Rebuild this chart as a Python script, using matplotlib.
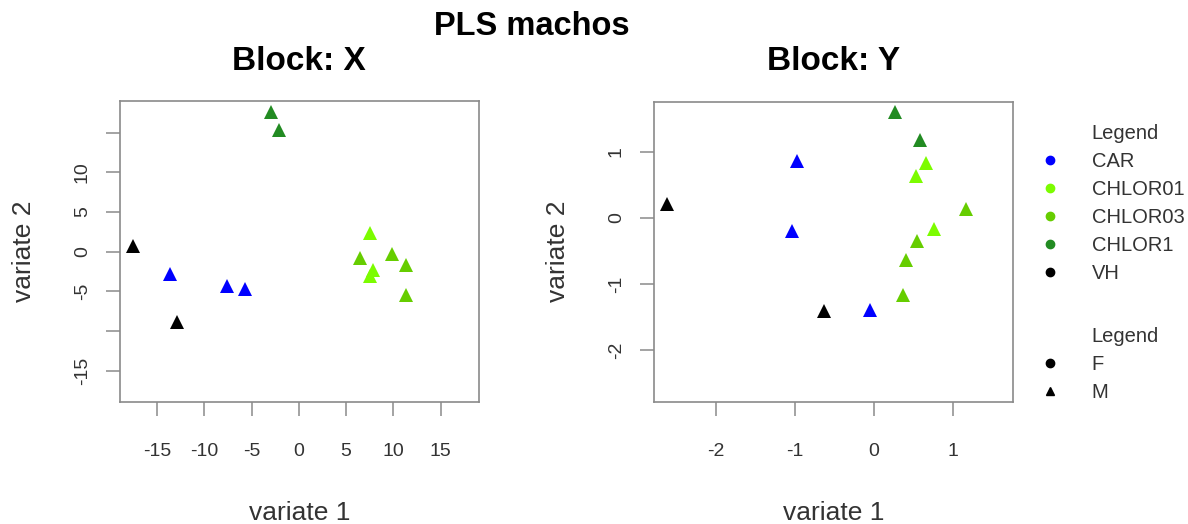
import matplotlib.pyplot as plt
from matplotlib.lines import Line2D

plt.rcParams['font.family'] = ['Liberation Sans', 'DejaVu Sans']
plt.rcParams['axes.unicode_minus'] = False

# sample groups (treatment) for the 14 males
groups = ['VH', 'VH', 'CAR', 'CAR', 'CAR', 'CHLOR1', 'CHLOR1',
          'CHLOR01', 'CHLOR01', 'CHLOR01',
          'CHLOR03', 'CHLOR03', 'CHLOR03', 'CHLOR03']

# block X components
x_var1 = [-17.5, -12.9, -13.6, -7.6, -5.7, -2.9, -2.05,
          7.5, 7.8, 7.5,
          6.5, 9.8, 11.3, 11.3]
x_var2 = [0.76, -8.8, -2.8, -4.3, -4.7, 17.6, 15.4,
          2.35, -2.3, -3.1,
          -0.8, -0.3, -1.7, -5.4]

# block Y components
y_var1 = [-2.62, -0.63, -0.97, -1.03, -0.05, 0.27, 0.59,
          0.66, 0.54, 0.76,
          1.17, 0.55, 0.41, 0.37]
y_var2 = [0.21, -1.40, 0.87, -0.20, -1.39, 1.61, 1.18,
          0.83, 0.63, -0.17,
          0.14, -0.35, -0.63, -1.16]

group_names = ['CAR', 'CHLOR01', 'CHLOR03', 'CHLOR1', 'VH']
group_colors = {'CAR': '#0000FF', 'CHLOR01': '#7CFC00', 'CHLOR03': '#66CD00',
                'CHLOR1': '#228B22', 'VH': '#000000'}
sex_names = ['F', 'M']
sex_markers = ['o', '^']

x_lim = (-18.9, 19.0)
x_ticks = [-15, -10, -5, 0, 5, 10, 15]
x_yticks = [-15, -10, -5, 0, 5, 10, 15]
x_yticklabels = ['-15', '', '-5', '0', '5', '10', '']

y_lim = (-2.78, 1.76)
y_ticks = [-2, -1, 0, 1]

box_col = '#8a8a8a'
txt_col = '#333333'

fig = plt.figure(figsize=(11.88, 5.24), dpi=100)
ax1 = fig.add_axes([0.1010, 0.2334, 0.3019, 0.5739])
ax2 = fig.add_axes([0.5505, 0.2334, 0.3019, 0.5725])


def draw_block(ax, v1, v2, lim, xticks, yticks, yticklabels):
    for g in group_names:
        xs = [a for a, k in zip(v1, groups) if k == g]
        ys = [b for b, k in zip(v2, groups) if k == g]
        ax.plot(xs, ys, ls='', marker='^', ms=10, color=group_colors[g],
                markeredgewidth=0)
    ax.set_xlim(lim)
    ax.set_ylim(lim)
    ax.set_xticks(xticks)
    ax.set_yticks(yticks)
    ax.set_yticklabels(yticklabels, rotation=90, va='center')
    for s in ax.spines.values():
        s.set_color(box_col)
        s.set_linewidth(1.2)
    ax.tick_params(axis='both', direction='out', length=10, width=1.1,
                   color=box_col, labelsize=14, labelcolor=txt_col)
    ax.tick_params(axis='x', pad=20)
    ax.tick_params(axis='y', pad=11)
    ax.set_xlabel('variate 1', fontsize=19, color=txt_col, labelpad=29)
    ax.set_ylabel('variate 2', fontsize=19, color=txt_col, labelpad=27)


draw_block(ax1, x_var1, x_var2, x_lim, x_ticks, x_yticks, x_yticklabels)
draw_block(ax2, y_var1, y_var2, y_lim, y_ticks, y_ticks,
           [str(t) for t in y_ticks])

fig.text(0.448, 0.950, 'PLS machos', ha='center', va='center',
         fontsize=23.5, fontweight='bold')
fig.text(0.2519, 0.8826, 'Block: X', ha='center', va='center',
         fontsize=24, fontweight='bold')
fig.text(0.7015, 0.8826, 'Block: Y', ha='center', va='center',
         fontsize=24, fontweight='bold')

# legends: colour = group, shape = sex
# the heading is an empty entry so it lines up with the labels
blank = Line2D([], [], ls='', marker='')
color_handles = [blank] + [Line2D([], [], ls='', marker='o', ms=6,
                                  color=group_colors[g]) for g in group_names]
fig.legend(color_handles, ['Legend'] + group_names,
           loc='upper left', bbox_to_anchor=(0.858, 0.798),
           frameon=False, fontsize=14.5, labelspacing=0.45,
           handletextpad=1.5, handlelength=1.2, labelcolor=txt_col)

shape_handles = [blank] + [Line2D([], [], ls='', marker=m, ms=6, color='black')
                           for m in sex_markers]
fig.legend(shape_handles, ['Legend'] + sex_names,
           loc='upper left', bbox_to_anchor=(0.858, 0.411),
           frameon=False, fontsize=14.5, labelspacing=0.45,
           handletextpad=1.5, handlelength=1.2, labelcolor=txt_col)

fig.savefig('out.png', dpi=100)
